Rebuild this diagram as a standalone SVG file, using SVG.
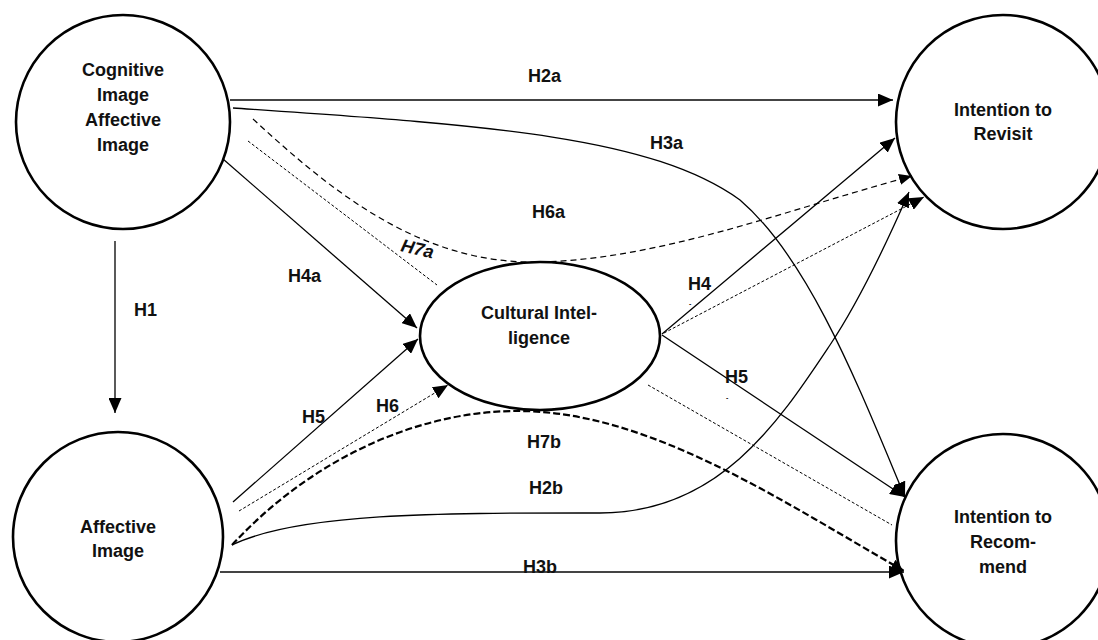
<svg xmlns="http://www.w3.org/2000/svg" width="1098" height="640" viewBox="0 0 1098 640">
<style>
.node{fill:#fff;stroke:#000;stroke-width:2.6}
.t{font-family:"Liberation Sans",Arial,sans-serif;font-weight:bold;font-size:18px;fill:#111;text-anchor:middle}
.lb{font-family:"Liberation Sans",Arial,sans-serif;font-weight:bold;font-size:18px;fill:#111}
.sm{font-family:"Liberation Sans",Arial,sans-serif;font-weight:bold;font-size:7px;fill:#111}
.ln{fill:none;stroke:#000;stroke-width:1.3}
.hz{fill:none;stroke:#444;stroke-width:2}
.dash{fill:none;stroke:#000;stroke-width:1.2;stroke-dasharray:6 4}
.fine{fill:none;stroke:#000;stroke-width:1;stroke-dasharray:3 2}
.thick{fill:none;stroke:#000;stroke-width:2.2;stroke-dasharray:7 3}
</style>
<defs>
<marker id="ah" viewBox="0 0 15 13" markerWidth="15" markerHeight="13" refX="15" refY="6.5" orient="auto" markerUnits="userSpaceOnUse"><path d="M0,0L15,6.5L0,13z" fill="#000"/></marker>
<marker id="ahs" viewBox="0 0 13 11" markerWidth="13" markerHeight="11" refX="13" refY="5.5" orient="auto" markerUnits="userSpaceOnUse"><path d="M0,0L13,5.5L0,11z" fill="#000"/></marker>
</defs>
<rect width="1098" height="640" fill="#fff"/>
<g id="node-cognitive"><circle class="node" cx="123" cy="122" r="107"/>
<text class="t" x="123" y="76">Cognitive</text><text class="t" x="123" y="101">Image</text><text class="t" x="123" y="126">Affective</text><text class="t" x="123" y="151">Image</text></g>
<g id="node-affective"><circle class="node" cx="118" cy="537" r="105"/>
<text class="t" x="118" y="533">Affective</text><text class="t" x="118" y="557">Image</text></g>
<g id="node-revisit"><circle class="node" cx="1003" cy="122" r="107"/>
<text class="t" x="1003" y="116">Intention to</text><text class="t" x="1003" y="140">Revisit</text></g>
<g id="node-recommend"><circle class="node" cx="1003" cy="541" r="107"/>
<text class="t" x="1003" y="523">Intention to</text><text class="t" x="1003" y="548">Recom-</text><text class="t" x="1003" y="573">mend</text></g>
<g id="node-ci"><ellipse class="node" cx="540" cy="336" rx="120" ry="74"/>
<text class="t" x="539" y="319">Cultural Intel-</text><text class="t" x="539" y="344">ligence</text></g>
<g id="connectors">
<line class="ln" x1="115" y1="241" x2="115" y2="413" marker-end="url(#ah)"/>
<line class="hz" x1="230" y1="100" x2="893" y2="100" marker-end="url(#ah)"/>
<path class="ln" d="M233,108 C480,125 650,135 740,200 C810,260 860,390 905,497" marker-end="url(#ah)"/>
<path class="dash" d="M253,119 C330,190 420,265 540,262 C660,259 780,212 912,176" marker-end="url(#ahs)"/>
<line class="fine" x1="248" y1="141" x2="437" y2="285"/>
<line class="ln" x1="223" y1="159" x2="417" y2="328" marker-end="url(#ah)"/>
<line class="ln" x1="233" y1="502" x2="418" y2="339" marker-end="url(#ah)"/>
<line class="fine" x1="239" y1="511" x2="448" y2="385" marker-end="url(#ah)"/>
<path class="thick" d="M232,545 C320,450 430,410 520,411 C650,412 780,500 904,571" marker-end="url(#ahs)"/>
<path class="ln" d="M232,545 C300,512 450,513 600,513 C720,513 780,420 830,345 C860,300 888,240 909,192" marker-end="url(#ah)"/>
<line class="hz" x1="220" y1="572" x2="904" y2="572" marker-end="url(#ah)"/>
<line class="ln" x1="662" y1="334" x2="895" y2="138" marker-end="url(#ah)"/>
<line class="fine" x1="664" y1="333" x2="924" y2="197" marker-end="url(#ah)"/>
<line class="ln" x1="662" y1="335" x2="905" y2="497" marker-end="url(#ah)"/>
<line class="fine" x1="648" y1="385" x2="892" y2="525"/>
</g>
<g id="labels">
<text class="lb" x="528" y="82">H2a</text>
<text class="lb" x="650" y="149">H3a</text>
<text class="lb" x="532" y="218">H6a</text>
<text class="lb" x="0" y="0" font-style="italic" transform="translate(400,251) rotate(13)">H7a</text>
<text class="lb" x="288" y="282">H4a</text>
<text class="lb" x="134" y="316">H1</text>
<text class="lb" x="688" y="290">H4</text>
<text class="sm" x="689" y="306">-</text>
<text class="lb" x="725" y="383">H5</text>
<text class="sm" x="726" y="400">-</text>
<text class="lb" x="302" y="423">H5</text>
<text class="lb" x="376" y="412">H6</text>
<text class="lb" x="527" y="448">H7b</text>
<text class="lb" x="529" y="494">H2b</text>
<text class="lb" x="523" y="573">H3b</text>
</g>
</svg>
